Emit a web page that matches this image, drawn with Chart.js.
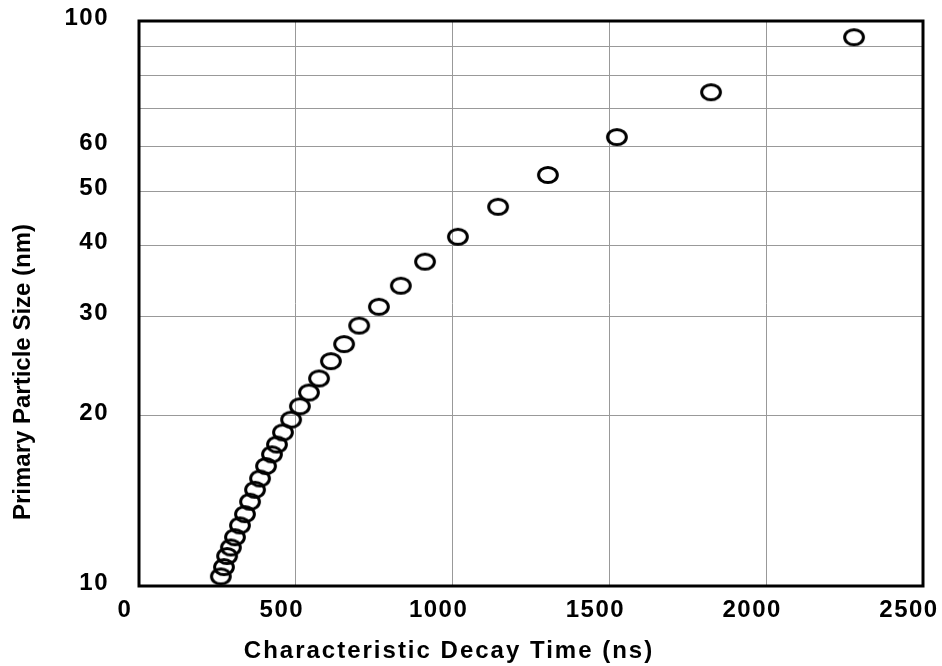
<!DOCTYPE html>
<html>
<head>
<meta charset="utf-8">
<script src="https://cdn.jsdelivr.net/npm/chart.js@4/dist/chart.umd.min.js"></script>
<style>
    body { margin: 0; background: #fff; }
    #wrap { width: 942px; height: 666px; }
</style>
</head>
<body>
<div id="wrap"><canvas id="ChartDecay"></canvas></div>
<script>
// values
const decayTimes = [261, 271, 281, 293, 306, 322, 338, 354, 370, 386, 405, 424, 440, 459, 485,
    513, 542, 574, 612, 654, 702, 765, 835, 912, 1017, 1145, 1304, 1524, 1824, 2280];
const particleSizes = [10.4, 10.8, 11.3, 11.7, 12.2, 12.8, 13.4, 14.1, 14.8, 15.5, 16.3, 17.1, 17.8, 18.7, 19.7,
    20.8, 22.0, 23.3, 25.0, 26.8, 28.9, 31.2, 34.0, 37.5, 41.5, 46.9, 53.4, 62.3, 74.8, 93.6];
const xTicks = [0, 500, 1000, 1500, 2000, 2500];
const yGrid = [10, 20, 30, 40, 50, 60, 70, 80, 90, 100];
const yTickLabels = [10, 20, 30, 40, 50, 60, 100];

const xTitle = 'Characteristic Decay Time (ns)';
const yTitle = 'Primary Particle Size (nm)';

const tickFont = { family: '"Liberation Sans", Arial, sans-serif', size: 24, weight: 'bold' };

// open ellipse marker (Excel style, a bit wider than tall)
function makeRing() {
    const c = document.createElement('canvas');
    c.width = 26;
    c.height = 22;
    const g = c.getContext('2d');
    g.lineWidth = 3;
    g.strokeStyle = '#000';
    g.beginPath();
    g.ellipse(13, 11, 9.4, 7.6, 0, 0, Math.PI * 2);
    g.stroke();
    return c;
}

// keep the plot box fixed, no room added for overhanging labels
function noPad(scale) {
    scale.paddingTop = 0;
    scale.paddingBottom = 0;
    scale.paddingLeft = 0;
    scale.paddingRight = 0;
}

const points = [];
for (var i = 0; i < decayTimes.length; i++) {
    points[i] = { x: decayTimes[i], y: particleSizes[i] };
}

const frameAndTitles = {
    id: 'frameAndTitles',
    beforeDraw(chart) {
        chart.ctx.letterSpacing = '1.5px';
    },
    beforeDatasetsDraw(chart) {
        const a = chart.chartArea;
        const ctx = chart.ctx;
        ctx.save();
        ctx.lineWidth = 3;
        ctx.strokeStyle = '#000';
        ctx.strokeRect(a.left, a.top, a.right - a.left, a.bottom - a.top);
        ctx.restore();
    },
    afterDraw(chart) {
        const ctx = chart.ctx;
        ctx.save();
        ctx.fillStyle = '#000';
        ctx.font = 'bold 24px "Liberation Sans", Arial, sans-serif';
        ctx.textAlign = 'center';
        ctx.textBaseline = 'middle';
        ctx.letterSpacing = '2px';
        ctx.fillText(xTitle, 449, 651);
        ctx.letterSpacing = '0px';
        ctx.translate(23, 372);
        ctx.rotate(-Math.PI / 2);
        ctx.fillText(yTitle, 0, 0);
        ctx.restore();
    }
};

const data = {
    datasets: [{
        label: 'Primary Particle Size',
        data: points,
        pointStyle: makeRing(),
        pointRadius: 10,
        showLine: false
    }]
};

const config = {
    type: 'scatter',
    data: data,
    options: {
        responsive: true,
        maintainAspectRatio: false,
        animation: false,
        layout: { autoPadding: false, padding: { left: 0, right: 19, top: 21, bottom: 0 } },
        plugins: {
            legend: { display: false },
            tooltip: { enabled: false }
        },
        scales: {
            x: {
                type: 'linear',
                min: 0,
                max: 2500,
                afterFit: function (scale) {
                    scale.height = 80;
                    noPad(scale);
                },
                afterBuildTicks: function (scale) {
                    scale.ticks = xTicks.map(function (v) { return { value: v }; });
                },
                grid: { color: '#999', lineWidth: 1, drawTicks: false },
                border: { display: false },
                ticks: {
                    color: '#000',
                    padding: 10,
                    labelOffset: -14,
                    maxRotation: 0,
                    font: tickFont,
                    callback: function (value) { return String(value); }
                }
            },
            y: {
                type: 'logarithmic',
                min: 10,
                max: 100,
                afterFit: function (scale) {
                    scale.width = 139;
                    noPad(scale);
                },
                afterBuildTicks: function (scale) {
                    scale.ticks = yGrid.map(function (v) { return { value: v }; });
                },
                grid: { color: '#999', lineWidth: 1, drawTicks: false },
                border: { display: false },
                ticks: {
                    color: '#000',
                    padding: 30,
                    labelOffset: -3,
                    autoSkip: false,
                    font: tickFont,
                    callback: function (value) {
                        const v = Math.round(value);
                        return yTickLabels.includes(v) ? String(v) : '';
                    }
                }
            }
        }
    },
    plugins: [frameAndTitles]
};

const myChartDecay = new Chart(
    document.getElementById('ChartDecay'),
    config
);
</script>
</body>
</html>
